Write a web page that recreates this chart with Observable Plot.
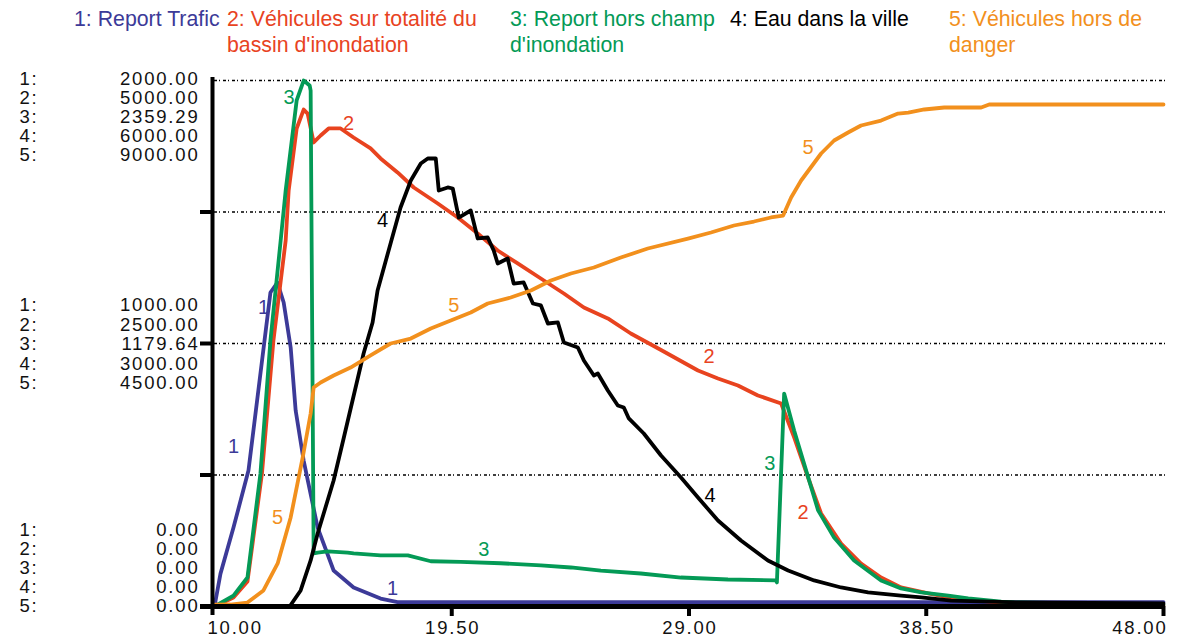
<!DOCTYPE html>
<html><head><meta charset="utf-8">
<script src="https://cdn.jsdelivr.net/npm/d3@7"></script>
<script src="https://cdn.jsdelivr.net/npm/@observablehq/plot@0.6"></script>
<style>
body{margin:0;background:#fff;font-family:"Liberation Sans",Arial,Helvetica,sans-serif;}
#legend{position:relative;height:60px;width:1177px;}
#legend div{position:absolute;top:7px;font-size:21.3px;line-height:25.5px;white-space:nowrap;}
</style></head><body>
<div id="legend"></div><div id="chart"></div>
<script>
// ---- series meta ----
const seriesNames = ["1: Report Trafic", "2: Véhicules sur totalité du<br>bassin d'inondation", "3: Report hors champ<br>d'inondation", "4: Eau dans la ville", "5: Véhicules hors de<br>danger"];
const seriesColors = ["#3c3a98", "#e8431f", "#049a56", "#000000", "#f2901d"];
const seriesMax = [2000, 5000, 2359.29, 6000, 9000];
const topLabels = ["2000.00", "5000.00", "2359.29", "6000.00", "9000.00"];
const midLabels = ["1000.00", "2500.00", "1179.64", "3000.00", "4500.00"];
const botLabels = ["0.00", "0.00", "0.00", "0.00", "0.00"];
const rowPrefix = ["1:", "2:", "3:", "4:", "5:"];
const xTicks = [10, 19.5, 29, 38.5, 48];
const xTickLabels = ["10.00", "19.50", "29.00", "38.50", "48.00"];
const gridLevels = [0.25, 0.5, 0.75, 1];

// ---- 1: Report Trafic ----
const t1 = [10, 10.24, 10.76, 11.36, 12.24, 12.52, 12.77, 13.05, 13.25, 13.57, 14.13, 14.77, 15.57, 16.65, 17.33, 18.5, 48];
const v1 = [0, 125, 300, 517, 1194, 1232, 1156, 985, 745, 555, 300, 137, 72, 30, 17, 17, 17];
// ---- 2: Véhicules sur totalité du bassin ----
const t2 = [10, 10.76, 11.32, 11.9, 12.36, 12.85, 12.97, 13.29, 13.57, 13.73, 13.97, 14.25, 14.57, 15.05, 15.57, 16.25, 16.65, 17.33, 17.98, 18.94, 19.74, 20.54, 21.34, 22.14, 23.19, 23.99, 24.79, 25.75, 26.67, 27.88, 29.36, 30.16, 30.96, 31.76, 32.69, 33.21, 33.77, 34.29, 35.09, 35.89, 36.69, 37.49, 38.58, 39.62, 41.5, 43.5, 48];
const v2 = [0, 86, 238, 1264, 2529, 3479, 3955, 4544, 4724, 4686, 4411, 4477, 4544, 4544, 4458, 4354, 4259, 4126, 3983, 3831, 3698, 3546, 3384, 3261, 3099, 2975, 2842, 2738, 2595, 2438, 2243, 2167, 2101, 2006, 1930, 1607, 1226, 884, 599, 409, 276, 181, 124, 76, 38, 19, 10];
// ---- 3: Report hors champ d'inondation ----
const t3 = [10, 10.76, 11.32, 11.84, 12.24, 12.65, 12.85, 13.29, 13.57, 13.81, 13.85, 13.97, 14.13, 14.53, 15.33, 15.57, 16.65, 17.74, 18.66, 19.86, 21.46, 23.07, 24.27, 25.47, 27.07, 28.68, 30.56, 32.48, 32.52, 32.81, 33.21, 34.17, 34.81, 35.61, 36.69, 37.49, 38.3, 39.38, 40.18, 41.5, 42.02, 48];
const v3 = [0, 49, 130, 597, 1193, 1642, 1866, 2270, 2359, 2337, 2314, 238, 242, 247, 242, 238, 229, 229, 203, 200, 194, 184, 175, 161, 148, 130, 121, 117, 108, 955, 789, 431, 309, 206, 117, 81, 63, 49, 36, 22, 18, 8];
// ---- 4: Eau dans la ville ----
const t4 = [10, 13.01, 13.45, 13.85, 14.13, 14.77, 15.17, 15.97, 16.33, 16.53, 17.05, 17.45, 17.86, 18.26, 18.54, 18.86, 18.98, 19.34, 19.54, 19.78, 20.26, 20.54, 20.94, 21.18, 21.34, 21.74, 21.98, 22.38, 22.75, 23.07, 23.35, 23.75, 23.99, 24.55, 24.79, 25.19, 25.35, 25.75, 26.15, 26.39, 26.59, 27.19, 27.88, 28.68, 29.36, 30.16, 31.08, 32.16, 32.97, 34.01, 35.09, 36.17, 37.49, 38.3, 39.5, 42.18, 48];
const v4 = [0, 0, 183, 525, 833, 1437, 1916, 2886, 3240, 3605, 4141, 4551, 4859, 5053, 5110, 5110, 4745, 4780, 4768, 4437, 4517, 4198, 4209, 4061, 3913, 3970, 3684, 3696, 3456, 3434, 3228, 3240, 3011, 2954, 2806, 2635, 2658, 2464, 2293, 2270, 2145, 1973, 1722, 1472, 1243, 981, 753, 525, 411, 297, 217, 160, 125, 103, 68, 46, 34];
// ---- 5: Véhicules hors de danger ----
const t5 = [10, 10.64, 11.32, 11.96, 12.53, 13.05, 13.53, 13.85, 13.97, 14.25, 14.77, 15.45, 16.25, 17.05, 17.86, 18.66, 19.46, 20.26, 20.94, 21.86, 22.67, 23.47, 24.27, 25.19, 26.27, 27.35, 28.96, 29.88, 30.8, 31.6, 32.28, 32.77, 33.09, 33.49, 34.29, 34.81, 35.37, 35.89, 36.69, 37.37, 37.78, 38.42, 39.22, 40.7, 41.02, 48];
const v5 = [30, 34, 68, 274, 736, 1523, 2549, 3302, 3747, 3833, 3952, 4089, 4295, 4500, 4585, 4757, 4893, 5030, 5184, 5287, 5407, 5578, 5698, 5800, 5971, 6125, 6296, 6399, 6519, 6587, 6656, 6690, 6998, 7289, 7751, 7973, 8110, 8230, 8315, 8435, 8452, 8504, 8538, 8538, 8589, 8589];

// ---- curve number labels (series index, time, value in series units) ----
const labelSeries = [0, 0, 0, 1, 1, 1, 2, 2, 2, 3, 3, 4, 4, 4];
const labelT = [11.96, 10.76, 17.13, 15.37, 29.8, 33.57, 12.99, 20.78, 32.24, 16.73, 29.84, 19.58, 12.53, 33.77];
const labelV = [1136, 608, 68, 4590, 2375, 894, 2284, 255, 642, 4403, 1266, 5150, 1523, 7857];

// ---- legend (HTML, above the svg) ----
const legendLeft = [74, 227, 510, 730, 949];
const legend = document.getElementById("legend");
seriesNames.forEach((n, i) => {
  const d = document.createElement("div");
  d.style.left = legendLeft[i] + "px";
  d.style.color = seriesColors[i];
  d.innerHTML = n;
  legend.appendChild(d);
});

// ---- build normalized data ----
const raw = [[t1, v1], [t2, v2], [t3, v3], [t4, v4], [t5, v5]];
const series = raw.map(([t, v], i) => t.map((x, k) => ({t: x, f: v[k] / seriesMax[i]})));
const labels = labelSeries.map((s, k) => ({s, t: labelT[k], f: labelV[k] / seriesMax[s], txt: String(s + 1)}));

const AX = 18.5;   // axis text size
const blocks = [
  {f: 1, labs: topLabels, off: i => i * 18.9 - 1},
  {f: 0.5, labs: midLabels, off: i => (i - 2) * 19.5 + 1},
  {f: 0, labs: botLabels, off: i => -(4 - i) * 19}
];
const axisTextMarks = [];
blocks.forEach(b => {
  for (let i = 0; i < 5; i++) {
    axisTextMarks.push(Plot.text([b.f], {x: () => 10, y: d => d, text: () => b.labs[i], dx: -15, dy: b.off(i), textAnchor: "end", fontSize: AX, fill: "#111"}));
    axisTextMarks.push(Plot.text([b.f], {x: () => 10, y: d => d, text: () => rowPrefix[i], dx: -195, dy: b.off(i), textAnchor: "start", fontSize: AX, fill: "#111"}));
  }
});

const chart = Plot.plot({
  width: 1177, height: 580,
  marginLeft: 214, marginRight: 14, marginTop: 20, marginBottom: 34,
  x: {domain: [10, 48], axis: null},
  y: {domain: [0, 1], axis: null},
  color: {type: "identity"},
  style: {fontFamily: "'Liberation Sans', Arial, Helvetica, sans-serif", background: "#fff", overflow: "visible"},
  marks: [
    Plot.ruleY(gridLevels, {x1: () => 10, x2: () => 48, insetRight: -2, stroke: "#000", strokeWidth: 1.4, strokeDasharray: "3,2,1,3"}),
    ...series.map((d, i) => Plot.line(d, {x: "t", y: "f", stroke: seriesColors[i], strokeWidth: 3.8, strokeLinejoin: "round"})),
    Plot.ruleX([10], {y1: () => 1, y2: () => 0, dx: -2, insetTop: -3, insetBottom: -9, stroke: "#000", strokeWidth: 4}),
    Plot.ruleY([0], {x1: () => 10, x2: () => 48, insetLeft: -14, insetRight: -2, stroke: "#000", strokeWidth: 5}),
    Plot.ruleY([0.25, 0.5, 0.75], {x1: () => 10, x2: () => 10, insetLeft: -14, stroke: "#000", strokeWidth: 4}),
    Plot.ruleX(xTicks.slice(1), {y1: () => 0, y2: () => 0, insetBottom: -10, stroke: "#000", strokeWidth: 4}),
    Plot.text(xTicks.slice(0, 1), {x: d => d, y: () => 0, text: () => xTickLabels[0], dy: 22, dx: -7, textAnchor: "start", fontSize: AX, fill: "#111"}),
    Plot.text(xTicks.slice(1, 4), {x: d => d, y: () => 0, text: (d, i) => xTickLabels[i + 1], dy: 22, dx: 1, textAnchor: "middle", fontSize: AX, fill: "#111"}),
    Plot.text(xTicks.slice(4), {x: d => d, y: () => 0, text: () => xTickLabels[4], dy: 22, dx: 4, textAnchor: "end", fontSize: AX, fill: "#111"}),
    ...axisTextMarks,
    Plot.text(labels, {x: "t", y: "f", text: "txt", fill: d => seriesColors[d.s], fontSize: 20})
  ]
});
// wide tracking on the axis value texts, as in the reference
chart.querySelectorAll("text").forEach(el => {
  if (el.textContent.length > 1) el.style.letterSpacing = "1.8px";
});
document.getElementById("chart").appendChild(chart);
</script></body></html>
